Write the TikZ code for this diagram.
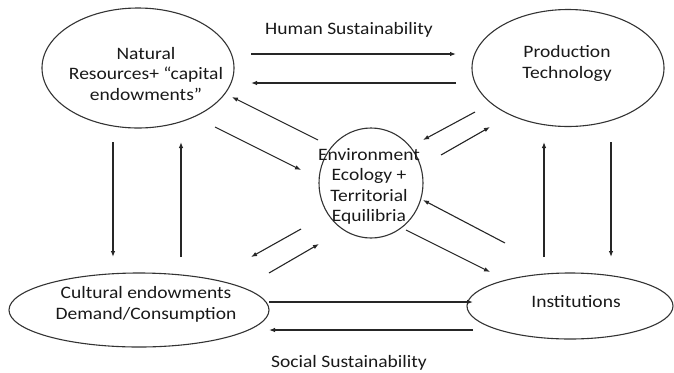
\documentclass[tikz,border=0pt]{standalone}
\usepackage{fontspec}
\setmainfont{Carlito}[FakeStretch=1.12]
\usetikzlibrary{arrows.meta,shapes.geometric}
\begin{document}
\begin{tikzpicture}[x=1bp,y=-1bp,
  ell/.style={draw=black!80, line width=1.1bp, ellipse, inner sep=0pt},
  txt/.style={align=center, font=\fontsize{17.5}{20.5}\selectfont, text=black!90, inner sep=0pt},
  arr/.style={draw=black!85, line width=1.1bp, -{Latex[length=6bp,width=4.5bp]}}]
\useasboundingbox (0,0) rectangle (674,372);
% ellipses
\node[ell, minimum width=192bp, minimum height=120bp] (nat) at (138,68) {};
\node[ell, minimum width=192bp, minimum height=117bp] (prod) at (568,68) {};
\node[ell, minimum width=104bp, minimum height=110bp] (env) at (371,183) {};
\node[ell, minimum width=260bp, minimum height=74bp] (cult) at (139,310) {};
\node[ell, minimum width=206bp, minimum height=66bp] (inst) at (570,306) {};
% texts
\node[txt] (natT) at (146,74) {Natural\\Resources+ “capital\\endowments”};
\node[txt] (prodT) at (567,63.5) {Production\\Technology};
\node[txt] (envT) at (369,186.5) {Environment\\Ecology +\\Territorial\\Equilibria};
\node[txt] (cultT) at (146,304.5) {Cultural endowments\\Demand/Consumption};
\node[txt] (instT) at (576,302) {Institutions};
\node[txt] (human) at (349,30) {Human Sustainability};
\node[txt] (social) at (349,363) {Social Sustainability};
% connector end points
\coordinate (t1a) at (251,54);  \coordinate (t1b) at (456,54);
\coordinate (t2a) at (456,83);  \coordinate (t2b) at (251,83);
\coordinate (b1a) at (269,302); \coordinate (b1b) at (473,302);
\coordinate (b2a) at (473,330); \coordinate (b2b) at (269,330);
\coordinate (l1a) at (113,142); \coordinate (l1b) at (113,257);
\coordinate (l2a) at (181,257); \coordinate (l2b) at (181,142);
\coordinate (r1a) at (544,257); \coordinate (r1b) at (544,142);
\coordinate (r2a) at (611,142); \coordinate (r2b) at (611,257);
\coordinate (d1a) at (318,140); \coordinate (d1b) at (232,97);
\coordinate (d2a) at (215,127); \coordinate (d2b) at (301,170);
\coordinate (d3a) at (475,112); \coordinate (d3b) at (423,140);
\coordinate (d4a) at (441,155); \coordinate (d4b) at (490,127);
\coordinate (d5a) at (301,229); \coordinate (d5b) at (251,257);
\coordinate (d6a) at (269,273); \coordinate (d6b) at (319,244);
\coordinate (d7a) at (406,230); \coordinate (d7b) at (490,272);
\coordinate (d8a) at (505,243); \coordinate (d8b) at (423,200);
% connectors
\draw[arr] (t1a) -- (t1b);
\draw[arr] (t2a) -- (t2b);
\draw[arr] (b1a) -- (b1b);
\draw[arr] (b2a) -- (b2b);
\draw[arr] (l1a) -- (l1b);
\draw[arr] (l2a) -- (l2b);
\draw[arr] (r1a) -- (r1b);
\draw[arr] (r2a) -- (r2b);
\draw[arr] (d1a) -- (d1b);
\draw[arr] (d2a) -- (d2b);
\draw[arr] (d3a) -- (d3b);
\draw[arr] (d4a) -- (d4b);
\draw[arr] (d5a) -- (d5b);
\draw[arr] (d6a) -- (d6b);
\draw[arr] (d7a) -- (d7b);
\draw[arr] (d8a) -- (d8b);
\end{tikzpicture}
\end{document}
